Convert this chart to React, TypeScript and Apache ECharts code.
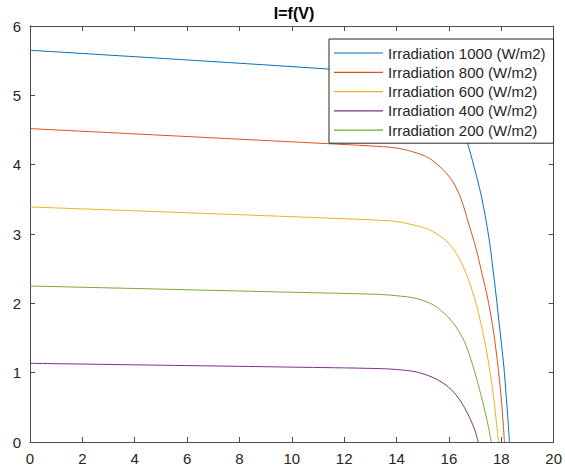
import React, { useEffect, useRef } from "react";
import * as echarts from "echarts";

const xTicks = [0, 2, 4, 6, 8, 10, 12, 14, 16, 18, 20];
const yTicks = [0, 1, 2, 3, 4, 5, 6];

const seriesNames = [
  "Irradiation 1000 (W/m2)",
  "Irradiation 800 (W/m2)",
  "Irradiation 600 (W/m2)",
  "Irradiation 400 (W/m2)",
  "Irradiation 200 (W/m2)",
];
const seriesColors = ["#0072BD", "#D95319", "#EDB120", "#7E2F8E", "#77AC30"];

const V1000 = [0, 6.44, 11.36, 13, 14, 14.76, 15.5, 16.1, 16.46, 16.71, 16.96, 17.22, 17.41, 17.56, 17.68, 17.8, 17.91, 18.01, 18.1, 18.18, 18.24, 18.31];
const I1000 = [5.65, 5.5, 5.38, 5.33, 5.28, 5.19, 5.04, 4.78, 4.56, 4.31, 3.97, 3.58, 3.21, 2.86, 2.5, 2.12, 1.74, 1.4, 1.08, 0.7, 0.4, 0];

const V800 = [0, 11, 13, 14, 14.76, 15.26, 15.77, 16.14, 16.46, 16.77, 17.03, 17.28, 17.47, 17.66, 17.85, 18.01, 18.12];
const I800 = [4.52, 4.31, 4.27, 4.24, 4.17, 4.09, 3.93, 3.76, 3.51, 3.13, 2.8, 2.4, 2.09, 1.7, 1.17, 0.58, 0];

const V600 = [0, 10, 13.25, 14, 14.76, 15.26, 15.77, 16.14, 16.46, 16.71, 16.9, 17.05, 17.22, 17.35, 17.47, 17.58, 17.68, 17.78, 17.89];
const I600 = [3.39, 3.25, 3.2, 3.18, 3.12, 3.06, 2.94, 2.8, 2.6, 2.38, 2.17, 1.98, 1.71, 1.48, 1.24, 0.98, 0.72, 0.4, 0];

// plotted 4th (purple) in the reference
const V400 = [0, 10, 13.25, 14, 14.76, 15.39, 15.89, 16.27, 16.59, 16.84, 17.0, 17.12];
const I400 = [1.135, 1.08, 1.06, 1.046, 1.01, 0.93, 0.82, 0.68, 0.5, 0.31, 0.16, 0];

// plotted 5th (green) in the reference
const V200 = [0, 10, 13.25, 14, 14.76, 15.39, 15.89, 16.27, 16.59, 16.84, 17.09, 17.34, 17.48, 17.62];
const I200 = [2.25, 2.16, 2.13, 2.11, 2.07, 1.98, 1.83, 1.66, 1.45, 1.19, 0.87, 0.5, 0.27, 0];

const curvesV = [V1000, V800, V600, V400, V200];
const curvesI = [I1000, I800, I600, I400, I200];

const FONT = "'Liberation Sans', Arial, Helvetica, sans-serif";
const AX = "#4d4d4d";
const TXT = "#262626";

export default function App() {
  const ref = useRef<HTMLDivElement>(null);
  useEffect(() => {
    if (!ref.current) return;
    const chart = echarts.init(ref.current, undefined, { renderer: "svg" });
    const axisCommon = {
      axisLine: { show: true, onZero: false, lineStyle: { color: AX, width: 1 } },
      axisTick: { show: true, inside: true, length: 5, lineStyle: { color: AX, width: 1 } },
      splitLine: { show: false },
    };
    const xMin = xTicks[0];
    const xMax = xTicks[xTicks.length - 1];
    const yMin = yTicks[0];
    const yMax = yTicks[yTicks.length - 1];
    chart.setOption({
      animation: false,
      backgroundColor: "#ffffff",
      textStyle: { fontFamily: FONT },
      graphic: [
        {
          type: "text",
          x: 294,
          y: 13,
          style: {
            text: "I=f(V)",
            fill: "#000000",
            font: "bold 16px " + FONT,
            textAlign: "center",
            textVerticalAlign: "middle",
          },
        },
      ],
      grid: { left: 30, right: 7, top: 26, bottom: 28, containLabel: false },
      legend: {
        orient: "vertical",
        left: 329,
        top: 39,
        data: seriesNames,
        icon: "rect",
        itemWidth: 49,
        itemHeight: 1.2,
        itemGap: 3.3,
        padding: [6, 8, 5, 5],
        backgroundColor: "#ffffff",
        borderColor: "#262626",
        borderWidth: 1,
        borderRadius: 0,
        textStyle: { fontSize: 15, color: TXT, fontFamily: FONT, lineHeight: 16 },
      },
      xAxis: [
        {
          type: "value",
          min: xMin,
          max: xMax,
          interval: 2,
          position: "bottom",
          ...axisCommon,
          axisLabel: { show: true, fontSize: 15, color: TXT, fontFamily: FONT, margin: 9 },
        },
        {
          type: "value",
          min: xMin,
          max: xMax,
          interval: 2,
          position: "top",
          ...axisCommon,
          axisLabel: { show: false },
        },
      ],
      yAxis: [
        {
          type: "value",
          min: yMin,
          max: yMax,
          interval: 1,
          position: "left",
          ...axisCommon,
          axisLabel: { show: true, fontSize: 15, color: TXT, fontFamily: FONT, margin: 9 },
        },
        {
          type: "value",
          min: yMin,
          max: yMax,
          interval: 1,
          position: "right",
          ...axisCommon,
          axisLabel: { show: false },
        },
      ],
      series: seriesNames.map((name, k) => ({
        name,
        type: "line",
        xAxisIndex: 0,
        yAxisIndex: 0,
        data: curvesV[k].map((v, i) => [v, curvesI[k][i]]),
        showSymbol: false,
        symbol: "none",
        smooth: 0.3,
        color: seriesColors[k],
        lineStyle: { color: seriesColors[k], width: 1 },
      })),
    });
    return () => chart.dispose();
  }, []);
  return (
    <div
      ref={ref}
      style={{ position: "fixed", left: 0, top: 0, width: 565, height: 470 }}
    />
  );
}
